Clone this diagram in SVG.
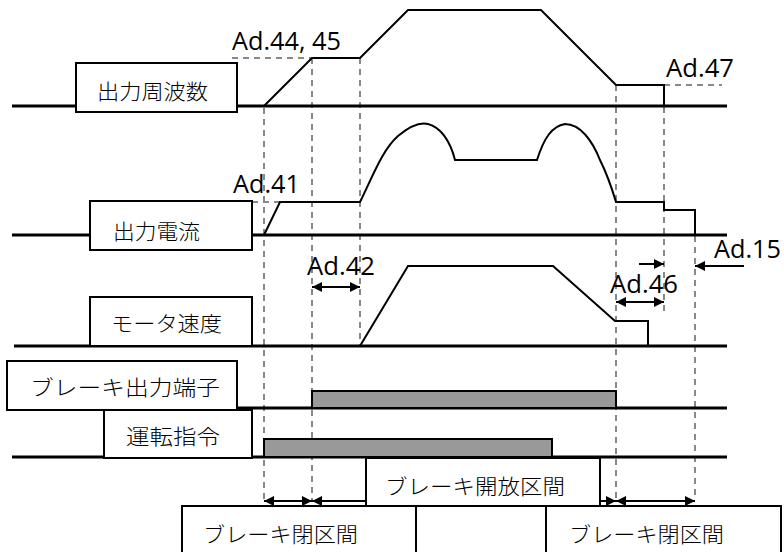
<svg xmlns="http://www.w3.org/2000/svg" width="784" height="552" viewBox="0 0 784 552">
<style>
.base{stroke:#000;stroke-width:3;fill:none}
.wave{stroke:#000;stroke-width:2;fill:none;stroke-linejoin:miter}
.dash{stroke:#888;stroke-width:2;stroke-dasharray:6,5;fill:none}
.box{fill:#fff;stroke:#000;stroke-width:2}
.bar{fill:#999;stroke:#000;stroke-width:2}
.arr{stroke:#000;stroke-width:2;fill:none}
.lbl{font-family:"Open Sans","Liberation Sans",sans-serif;font-size:25px;fill:#000}
.jp{font-family:"Noto Sans CJK JP",sans-serif;font-weight:300;font-size:21px;fill:#000}
</style>
<defs>
<marker id="ah" viewBox="0 0 10 10" refX="10" refY="5" markerWidth="10" markerHeight="10" markerUnits="userSpaceOnUse" orient="auto-start-reverse">
<path d="M0,0 L10,5 L0,10 Z" fill="#000"/>
</marker>
</defs>

<g id="guides">
<line class="dash" x1="264" y1="108" x2="264" y2="500"/>
<line class="dash" x1="312" y1="58" x2="312" y2="500"/>
<line class="dash" x1="360" y1="58" x2="360" y2="346"/>
<line class="dash" x1="616" y1="85" x2="616" y2="500"/>
<line class="dash" x1="664" y1="85" x2="664" y2="316"/>
<line class="dash" x1="695" y1="236" x2="695" y2="500"/>
<line class="dash" x1="232" y1="58" x2="312" y2="58"/>
<line class="dash" x1="664" y1="85" x2="722" y2="85"/>
<line class="dash" x1="252" y1="202" x2="280" y2="202"/>
</g>

<g id="freq">
<line class="base" x1="12" y1="106" x2="727" y2="106"/>
<path class="wave" d="M264,106 L312,58 L360,58 L408,10 L541,10 L616,85 L664,85 L664,106"/>
<rect class="box" x="76" y="63" width="161" height="49"/>
<text class="jp" x="97" y="99" textLength="111" lengthAdjust="spacingAndGlyphs">出力周波数</text>
<text class="lbl" x="232" y="50" textLength="109" lengthAdjust="spacingAndGlyphs">Ad.44, 45</text>
<text class="lbl" x="666" y="77" textLength="68" lengthAdjust="spacingAndGlyphs">Ad.47</text>
</g>

<g id="current">
<line class="base" x1="12" y1="235" x2="727" y2="235"/>
<path class="wave" d="M264,235 L280,202 L360,202 C372,178 382,150 398,136 C410,126 420,122 428,124 C440,127 450,140 455,160 L537,160 C544,138 552,126 565,124 C580,124 592,140 600,160 C608,176 613,192 616,202 L664,202 L664,210 L695,210 L695,235"/>
<rect class="box" x="90" y="201" width="162" height="49"/>
<text class="jp" x="113" y="239" textLength="87" lengthAdjust="spacingAndGlyphs">出力電流</text>
<text class="lbl" x="233" y="193" textLength="67" lengthAdjust="spacingAndGlyphs">Ad.41</text>
</g>

<g id="speed">
<line class="base" x1="14" y1="346" x2="727" y2="346"/>
<path class="wave" d="M360,346 L408,266 L553,266 L615,321 L648,321 L648,346"/>
<rect class="box" x="90" y="297" width="162" height="49"/>
<text class="jp" x="111" y="331" textLength="111" lengthAdjust="spacingAndGlyphs">モータ速度</text>
<text class="lbl" x="307" y="275" textLength="68" lengthAdjust="spacingAndGlyphs">Ad.42</text>
<text class="lbl" x="610" y="293" textLength="68" lengthAdjust="spacingAndGlyphs">Ad.46</text>
<text class="lbl" x="714" y="258" textLength="67" lengthAdjust="spacingAndGlyphs">Ad.15</text>
</g>

<g id="brake-output">
<line class="base" x1="237" y1="408" x2="727" y2="408"/>
<rect class="bar" x="312" y="391" width="304" height="17"/>
<rect class="box" x="7" y="361" width="230" height="49"/>
<text class="jp" x="30" y="395" textLength="190" lengthAdjust="spacingAndGlyphs">ブレーキ出力端子</text>
</g>

<g id="run-command">
<line class="base" x1="12" y1="457" x2="727" y2="457"/>
<rect class="bar" x="264" y="439" width="288" height="18"/>
<rect class="box" x="104" y="410" width="148" height="48"/>
<text class="jp" x="126" y="444" textLength="94" lengthAdjust="spacingAndGlyphs">運転指令</text>
</g>

<g id="brake-open">
<rect class="box" x="366" y="458" width="234" height="49"/>
<text class="jp" x="385" y="494" textLength="180" lengthAdjust="spacingAndGlyphs">ブレーキ開放区間</text>
</g>

<g id="brake-closed-1">
<rect class="box" x="182" y="506" width="234" height="60"/>
<text class="jp" x="203" y="542" textLength="155" lengthAdjust="spacingAndGlyphs">ブレーキ閉区間</text>
</g>
<g id="middle-box">
<rect class="box" x="416" y="506" width="130" height="60"/>
</g>
<g id="brake-closed-2">
<rect class="box" x="546" y="506" width="235" height="60"/>
<text class="jp" x="569" y="542" textLength="155" lengthAdjust="spacingAndGlyphs">ブレーキ閉区間</text>
</g>

<g id="connectors">
<line class="arr" x1="312" y1="287" x2="360" y2="287" marker-start="url(#ah)" marker-end="url(#ah)"/>
<line class="arr" x1="639" y1="264" x2="664" y2="264" marker-end="url(#ah)"/>
<line class="arr" x1="616" y1="302" x2="664" y2="302" marker-start="url(#ah)" marker-end="url(#ah)"/>
<line class="arr" x1="744" y1="266" x2="695" y2="266" marker-end="url(#ah)"/>
<line class="arr" x1="264" y1="501" x2="312" y2="501" marker-start="url(#ah)" marker-end="url(#ah)"/>
<line class="arr" x1="366" y1="501" x2="312" y2="501" marker-end="url(#ah)"/>
<line class="arr" x1="600" y1="501" x2="616" y2="501" marker-end="url(#ah)"/>
<line class="arr" x1="616" y1="501" x2="695" y2="501" marker-start="url(#ah)" marker-end="url(#ah)"/>
</g>
</svg>
